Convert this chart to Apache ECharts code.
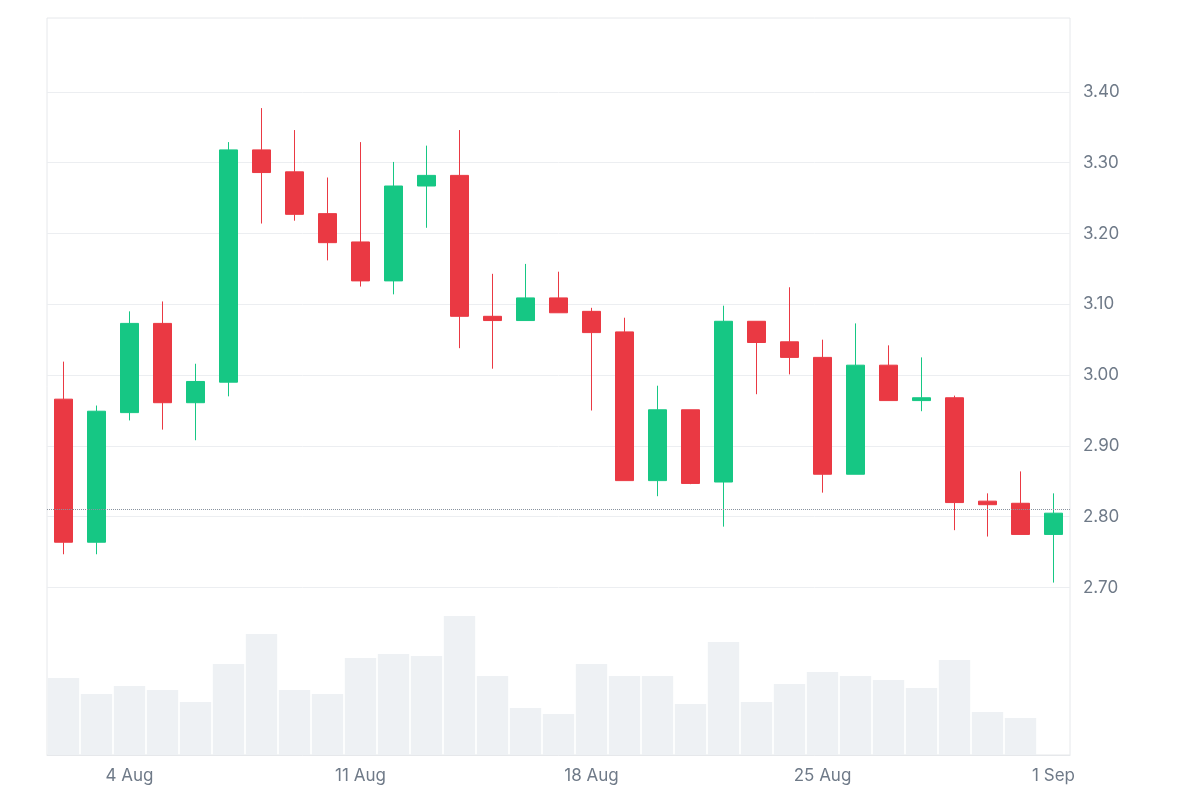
<!DOCTYPE html>
<html lang="en">
<head>
    <meta charset="UTF-8">
    <title>Candles</title>
    <script src="https://cdn.jsdelivr.net/npm/echarts@6/dist/echarts.min.js"></script>
</head>
<body style="margin:0">
    <div id="main" style="width: 1200px;height:800px;"></div>
    <script type="text/javascript">
        var dates = ['2 Aug','3 Aug','4 Aug','5 Aug','6 Aug','7 Aug','8 Aug','9 Aug','10 Aug','11 Aug',
            '12 Aug','13 Aug','14 Aug','15 Aug','16 Aug','17 Aug','18 Aug','19 Aug','20 Aug','21 Aug',
            '22 Aug','23 Aug','24 Aug','25 Aug','26 Aug','27 Aug','28 Aug','29 Aug','30 Aug','31 Aug','1 Sep'];
        // open, close, low, high
        var ohlc = [
            [2.966, 2.764, 2.747, 3.019], [2.764, 2.949, 2.747, 2.957], [2.947, 3.073, 2.936, 3.090],
            [3.073, 2.961, 2.923, 3.104], [2.961, 2.991, 2.908, 3.016], [2.990, 3.318, 2.970, 3.329],
            [3.318, 3.286, 3.214, 3.377], [3.287, 3.227, 3.218, 3.346], [3.228, 3.187, 3.162, 3.279],
            [3.188, 3.133, 3.125, 3.329], [3.133, 3.267, 3.114, 3.301], [3.267, 3.282, 3.208, 3.324],
            [3.282, 3.083, 3.038, 3.346], [3.083, 3.077, 3.009, 3.143], [3.077, 3.109, 3.077, 3.157],
            [3.109, 3.088, 3.088, 3.146], [3.090, 3.060, 2.950, 3.095], [3.061, 2.851, 2.851, 3.081],
            [2.851, 2.951, 2.829, 2.985], [2.951, 2.847, 2.846, 2.951], [2.849, 3.076, 2.786, 3.098],
            [3.076, 3.046, 2.973, 3.076], [3.047, 3.025, 3.001, 3.124], [3.025, 2.860, 2.834, 3.050],
            [2.860, 3.014, 2.860, 3.073], [3.014, 2.964, 2.964, 3.042], [2.964, 2.968, 2.949, 3.025],
            [2.968, 2.820, 2.781, 2.971], [2.822, 2.817, 2.772, 2.833], [2.819, 2.775, 2.775, 2.864],
            [2.775, 2.805, 2.707, 2.833]
        ];
        var volumes = [77, 61, 69, 65, 53, 91, 121, 65, 61, 97, 101, 99, 139, 79, 47, 41, 91, 79, 79, 51,
            113, 53, 71, 83, 79, 75, 67, 95, 43, 37, 0];
        var lastPrice = 2.805;
        var labelDays = ['4 Aug', '11 Aug', '18 Aug', '25 Aug', '1 Sep'];

        var lineCol = '#eceef1';
        var myChart = echarts.init(document.getElementById('main'));
        var option = {
            animation: false,
            grid: [
                {left: 47, right: 130, top: 21, height: 780},
                {left: 47, right: 130, top: 18, bottom: 45, show: true, borderColor: '#e6e8eb', borderWidth: 1}
            ],
            xAxis: [
                {type: 'category', gridIndex: 0, data: dates, show: false},
                {
                    type: 'category', gridIndex: 1, data: dates,
                    axisLine: {lineStyle: {color: '#e6e8eb'}}, axisTick: {show: false},
                    axisLabel: {
                        color: '#6f7a88', fontSize: 17, margin: 12, fontFamily: 'Inter',
                        interval: function (i, v) { return labelDays.indexOf(v) >= 0; }
                    }
                }
            ],
            yAxis: [
                {
                    type: 'value', gridIndex: 0, position: 'right', min: 2.4, max: 3.5, interval: 0.1,
                    axisLine: {show: false}, axisTick: {show: false},
                    axisLabel: {
                        color: '#6f7a88', fontSize: 17, margin: 13, fontFamily: 'Inter',
                        formatter: function (v) { return (v < 2.65 || v > 3.45) ? '' : v.toFixed(2); }
                    },
                    splitLine: {lineStyle: {color: ['transparent', 'transparent', 'transparent',
                        lineCol, lineCol, lineCol, lineCol, lineCol, lineCol, lineCol, lineCol, 'transparent']}}
                },
                {type: 'value', gridIndex: 1, min: 0, max: 737, show: false}
            ],
            series: [
                {
                    type: 'bar', xAxisIndex: 1, yAxisIndex: 1, data: volumes,
                    barCategoryGap: '5%', itemStyle: {color: '#eef1f4'}, silent: true
                },
                {
                    type: 'candlestick', xAxisIndex: 0, yAxisIndex: 0, data: ohlc, barWidth: 18,
                    itemStyle: {color: '#16c784', color0: '#ea3943', borderColor: '#16c784', borderColor0: '#ea3943'},
                    markLine: {
                        symbol: 'none', silent: true, label: {show: false},
                        lineStyle: {color: '#8a939f', type: 'dotted', width: 1},
                        data: [{yAxis: lastPrice}]
                    }
                }
            ]
        };
        myChart.setOption(option);
    </script>
</body>
</html>
